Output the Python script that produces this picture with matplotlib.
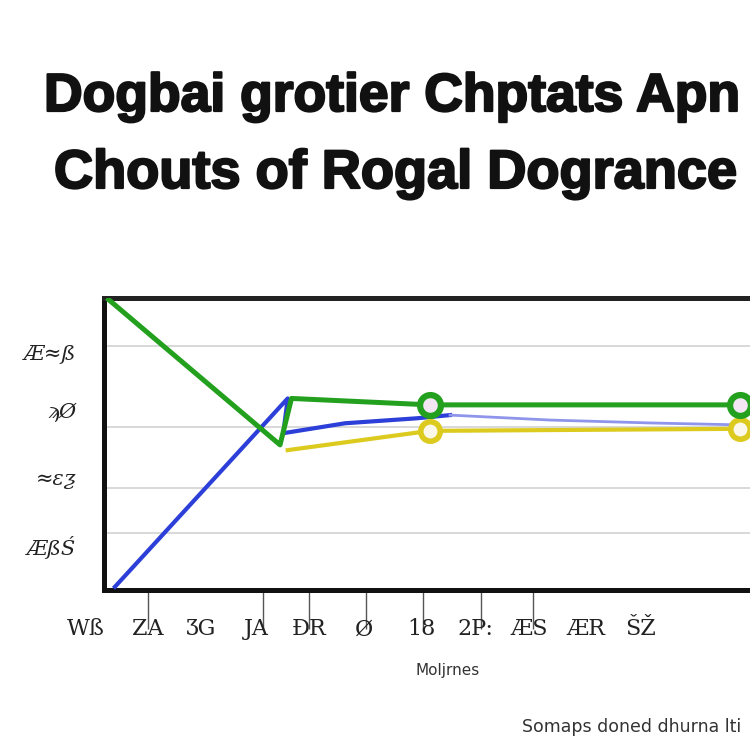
import matplotlib
matplotlib.use("Agg")
import matplotlib.pyplot as plt
import matplotlib.transforms as mtransforms
import matplotlib.patheffects as pe

# ---- data ----
title_line1 = "Dogbai grotier Chptats Apn"
title_line2 = "Chouts of Rogal Dogrance"
x_label = "Moljrnes"
footer = "Somaps doned dhurna lti"

green_x = [0.05, 3.22, 3.43, 5.96, 11.63]
green_y = [100.0, 49.7, 65.6, 63.4, 63.4]
green_marker_idx = [3, 4]

blue_x = [0.2, 3.36, 3.28, 4.41, 5.72, 6.33, 8.16, 10.0, 11.5]
blue_y = [1.1, 65.6, 53.7, 57.1, 58.8, 59.9, 58.2, 57.2, 56.6]
blue_solid_until = 6

yellow_x = [3.36, 5.96, 11.63]
yellow_y = [47.9, 54.5, 55.2]
yellow_marker_idx = [1, 2]

grid_y = [19.6, 35.0, 55.7, 83.7]
ytick_pos = [81.5, 61.6, 38.4, 15.4]
ytick_labels = ["Æ≈ß", "ϡØ", "≈ɛƺ", "ÆßŚ"]

xtick_marks = [0.80, 2.91, 3.75, 4.79, 5.84, 6.90, 7.85]
xlabel_pos = [-0.33, 0.80, 1.77, 2.78, 3.75, 4.76, 5.80, 6.80, 7.77, 8.82, 9.82]
xlabel_text = ["Wß", "ZA", "ƷG", "JA", "ƉR", "Ø", "18", "2P:", "ÆS", "ÆR", "ŠŽ"]

GREEN = "#22a01e"
BLUE = "#2c3fd8"
BLUE_LIGHT = "#8f95ea"
YELLOW = "#dccb1e"

fig = plt.figure(figsize=(7.5, 7.5), dpi=100)
W = H = 750.0
ax = fig.add_axes([104 / W, 1 - 590 / H, (760 - 104) / W, (590 - 298) / H])
ax.set_xlim(0, 12)
ax.set_ylim(0, 100)

for g in grid_y:
    ax.axhline(g, color="#d6d6d6", lw=1.3, zorder=1)

ax.plot(green_x, green_y, color=GREEN, lw=3.6, solid_capstyle="butt", zorder=4)
ax.plot([green_x[i] for i in green_marker_idx], [green_y[i] for i in green_marker_idx],
        ls="none", marker="o", ms=15, mew=4.5, mec=GREEN, mfc="#f3e6f3", zorder=6)

ax.plot(blue_x[:blue_solid_until], blue_y[:blue_solid_until], color=BLUE, lw=3.0, zorder=3)
ax.plot(blue_x[blue_solid_until - 1:], blue_y[blue_solid_until - 1:], color=BLUE_LIGHT, lw=2.0, zorder=3)

ax.plot(yellow_x, yellow_y, color=YELLOW, lw=3.0, zorder=3)
ax.plot([yellow_x[i] for i in yellow_marker_idx], [yellow_y[i] for i in yellow_marker_idx],
        ls="none", marker="o", ms=14, mew=4, mec=YELLOW, mfc="#fbf8ea", zorder=5)

for s in ["left", "bottom", "top"]:
    ax.spines[s].set_linewidth(3.6)
    ax.spines[s].set_color("#111111")
ax.spines["top"].set_color("#222222")
ax.spines["right"].set_visible(False)

fam = ["DejaVu Serif", "DejaVu Sans"]
ax.set_yticks(ytick_pos)
ax.set_yticklabels(ytick_labels, fontsize=15, family=fam, style="italic", color="#222222")
ax.tick_params(axis="y", length=0, pad=20)

ax.set_xticks(xtick_marks)
ax.set_xticklabels([])
ax.tick_params(axis="x", direction="out", length=28, width=1.0, color="#555555")

trans = mtransforms.blended_transform_factory(ax.transData, ax.transAxes)
for xp, t in zip(xlabel_pos, xlabel_text):
    ax.text(xp, -0.135, t, transform=trans, ha="center", va="center", fontsize=16,
            family=fam, color="#222222", clip_on=False)

fig.text(448 / W, 1 - 670 / H, x_label, ha="center", va="center", fontsize=11,
         family="DejaVu Sans", color="#333333")
fig.text(522 / W, 1 - 727 / H, footer, ha="left", va="center", fontsize=12.5,
         family="DejaVu Sans", color="#333333")

stroke = [pe.withStroke(linewidth=1.6, foreground="#111111")]
fig.text(44 / W, 1 - 97 / H, title_line1, ha="left", va="center", fontsize=38.5,
         family="Liberation Sans", weight="bold", color="#111111", path_effects=stroke)
fig.text(54 / W, 1 - 174 / H, title_line2, ha="left", va="center", fontsize=39,
         family="Liberation Sans", weight="bold", color="#111111", path_effects=stroke)

fig.savefig("out.png", dpi=100, facecolor="white")
